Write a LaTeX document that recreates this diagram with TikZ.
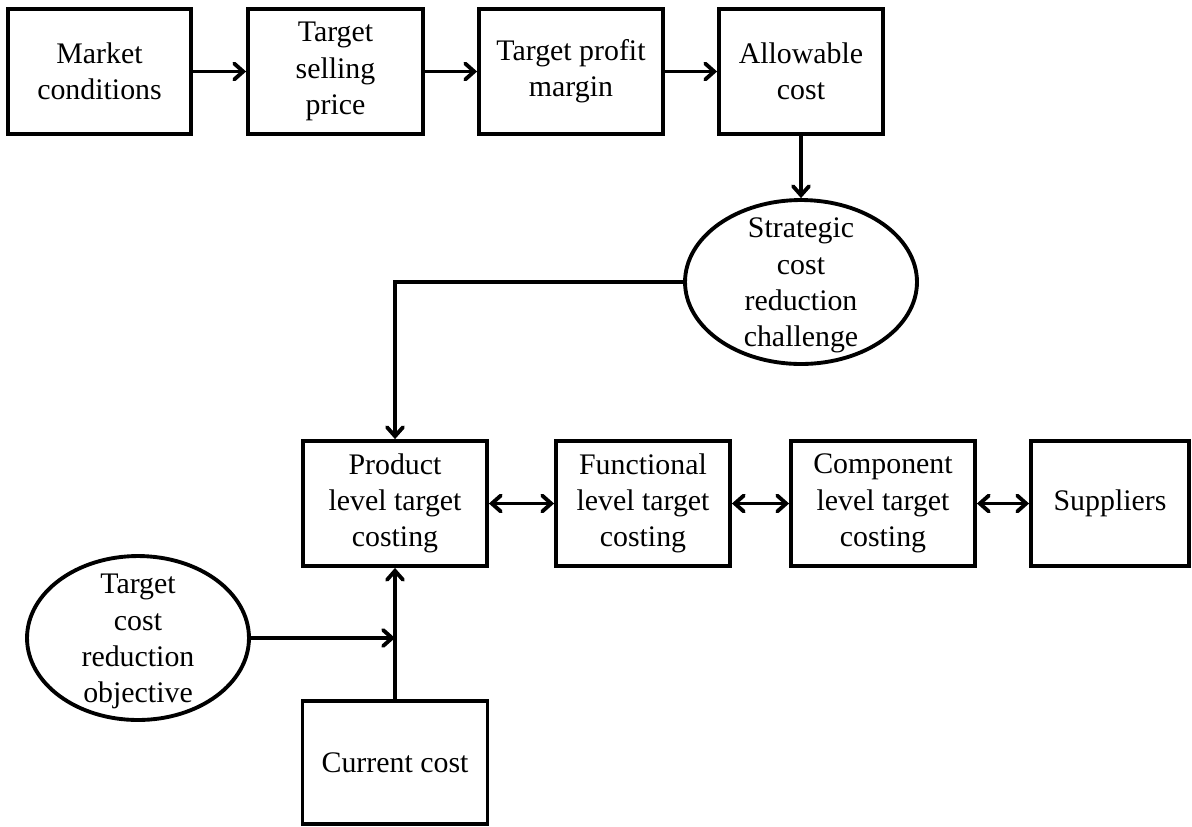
\documentclass[tikz,border=0pt]{standalone}
\usepackage{fontspec}
\setmainfont{Liberation Serif}
\usetikzlibrary{arrows.meta,shapes.geometric}
\tikzset{
	blk/.style={draw,line width=2.2pt,align=center,inner sep=0pt,minimum height=2.5cm},
	oval/.style={draw,ellipse,line width=2.2pt,inner sep=0pt,minimum width=4.64cm,minimum height=3.28cm,
		label={[align=center,yshift=-2pt]center:#1}},
	flow/.style={line width=2.2pt,-{Straight Barb[length=1.8mm,width=3.2mm,line cap=round]}},
	flow2/.style={line width=2.2pt,{Straight Barb[length=1.8mm,width=3.2mm,line cap=round]}-{Straight Barb[length=1.8mm,width=3.2mm,line cap=round]}},
}

\begin{document}
\begin{tikzpicture}[x=0.02cm,y=-0.02cm,font=\fontsize{17}{20.6}\selectfont]
		\useasboundingbox (0,0) rectangle (1192,826);
		% top row
		\node[blk,minimum width=3.66cm] (mkt) at (99.5,71.5) {Market\\conditions};
		\node[blk,minimum width=3.5cm] (tsp) at (335.5,71.5) {Target\\selling\\price};
		\node[blk,minimum width=3.68cm] (tpm) at (571,71.5) {Target profit\\margin};
		\node[blk,minimum width=3.28cm] (alc) at (801,71.5) {Allowable\\cost};
		\node[oval={Strategic\\cost\\reduction\\challenge}] (scr) at (801,282) {};
		\draw[flow] (mkt) -- (tsp);
		\draw[flow] (tsp) -- (tpm);
		\draw[flow] (tpm) -- (alc);
		\draw[flow] (alc) -- (scr);
		% costing levels
		\node[blk,minimum width=3.68cm] (plc) at (395,503.5) {Product\\level target\\costing};
		\node[blk,minimum width=3.48cm] (flc) at (643,503.5) {Functional\\level target\\costing};
		\node[blk,minimum width=3.68cm] (clc) at (883,503.5) {Component\\level target\\costing};
		\node[blk,minimum width=3.16cm] (sup) at (1110,503.5) {Suppliers};
		\draw[flow] (scr.west) -| (plc.north);
		\draw[flow2] (plc) -- (flc);
		\draw[flow2] (flc) -- (clc);
		\draw[flow2] (clc) -- (sup);
		% bottom inputs
		\node[oval={Target\\cost\\reduction\\objective},minimum width=4.44cm] (tcr) at (138,638) {};
		\node[blk,minimum width=3.7cm,minimum height=2.46cm] (cur) at (395,762.5) {Current cost};
		\coordinate (jn) at (395,638);
		\draw[flow] (tcr.east) -- (jn);
		\draw[flow] (cur.north) -- (plc.south);
	\end{tikzpicture}
\end{document}
